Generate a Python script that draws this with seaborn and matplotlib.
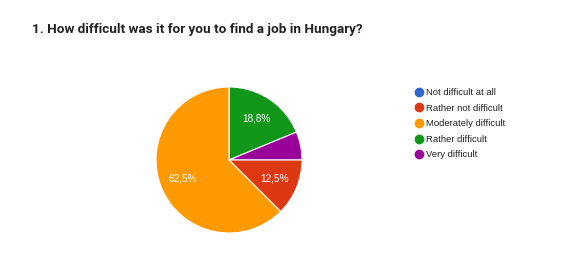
import matplotlib
matplotlib.use("Agg")
import matplotlib.pyplot as plt
from matplotlib.lines import Line2D
import seaborn as sns

sns.set_theme(style="white")
plt.rcParams['font.family'] = ['Liberation Sans', 'DejaVu Sans']

title = "1. How difficult was it for you to find a job in Hungary?"
categories = ["Not difficult at all", "Rather not difficult", "Moderately difficult",
              "Rather difficult", "Very difficult"]
counts = [0, 2, 10, 3, 1]
colors = ["#3366cc", "#dc3912", "#ff9900", "#109618", "#990099"]
# drawing order (clockwise from 12 o'clock) as seen in the reference
draw_order = ["Rather difficult", "Very difficult", "Rather not difficult", "Moderately difficult"]

palette = sns.color_palette(colors)
cmap = dict(zip(categories, palette))
vals = [counts[categories.index(c)] for c in draw_order]
cols = [cmap[c] for c in draw_order]

W, H = 577, 270
fig = plt.figure(figsize=(W / 100, H / 100), dpi=100)
fig.patch.set_facecolor("white")

cx, cy, r = 229, 160, 73
ax = fig.add_axes([(cx - r) / W, (H - cy - r) / H, 2 * r / W, 2 * r / H])

def fmt(p):
    return (f"{p:.1f}".replace(".", ",") + "%") if p >= 10 else ""

wedges, texts, autotexts = ax.pie(vals, colors=cols, startangle=90, counterclock=False,
                                  autopct=fmt, pctdistance=0.68,
                                  wedgeprops=dict(edgecolor="white", linewidth=0.8),
                                  textprops=dict(color="white", fontsize=7.2))
ax.set_xlim(-1, 1)
ax.set_ylim(-1, 1)
ax.set_aspect("equal")
ax.axis("off")

fig.text(32 / W, 1 - 30 / H, title, fontsize=9.7, fontweight="bold", color="#222222",
         va="center", ha="left", family=["Roboto", "DejaVu Sans"])

handles = [Line2D([0], [0], marker="o", linestyle="", markersize=6,
                  markerfacecolor=cmap[c], markeredgecolor=cmap[c]) for c in categories]
fig.legend(handles, categories, loc="upper left", bbox_to_anchor=(413 / W, 1 - 88 / H),
           frameon=False, fontsize=6.8, labelspacing=0.7, handletextpad=0.15,
           handlelength=1.2, borderaxespad=0, borderpad=0, labelcolor="#222222")

fig.savefig("out.png", dpi=100, facecolor="white")
